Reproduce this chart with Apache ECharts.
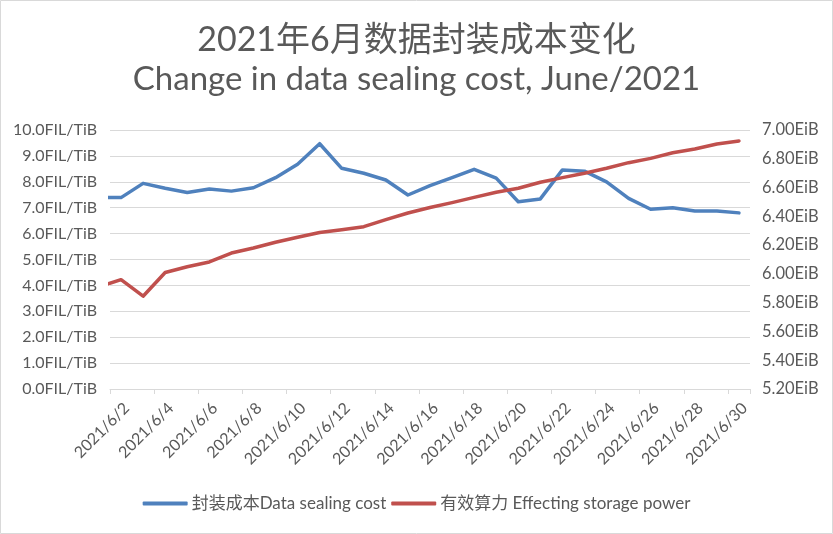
<!DOCTYPE html>
<html><head><meta charset="utf-8">
<script src="https://cdn.jsdelivr.net/npm/echarts@6/dist/echarts.min.js"></script>
<style>html,body{margin:0;padding:0;background:#fff}#c{width:833px;height:534px}</style>
</head><body><div id="c"></div>
<script>
const categories = ['2021/6/1','2021/6/2','2021/6/3','2021/6/4','2021/6/5','2021/6/6','2021/6/7','2021/6/8','2021/6/9','2021/6/10',
  '2021/6/11','2021/6/12','2021/6/13','2021/6/14','2021/6/15','2021/6/16','2021/6/17','2021/6/18','2021/6/19','2021/6/20',
  '2021/6/21','2021/6/22','2021/6/23','2021/6/24','2021/6/25','2021/6/26','2021/6/27','2021/6/28','2021/6/29','2021/6/30'];
const sealingCost = [7.39,7.39,7.94,7.75,7.59,7.72,7.64,7.77,8.16,8.68,9.47,8.52,8.33,8.07,7.49,7.85,8.16,8.48,8.14,7.23,
  7.34,8.46,8.41,8.00,7.36,6.94,7.00,6.87,6.87,6.80];
const storagePower = [5.91,5.96,5.845,6.01,6.05,6.083,6.145,6.18,6.22,6.255,6.288,6.307,6.328,6.377,6.423,6.461,6.495,6.532,6.567,6.595,
  6.637,6.669,6.699,6.734,6.773,6.803,6.842,6.868,6.903,6.924];
const seriesNames = ['封装成本Data sealing cost','有效算力 Effecting storage power'];
const titleLines = ['2021年6月数据封装成本变化','Change in data sealing cost, June/2021'];

const FONT = "Lato, 'Noto Sans CJK SC', sans-serif";
const TXT = '#595959';
const chart = echarts.init(document.getElementById('c'), null, {renderer:'canvas'});
chart.setOption({
  animation:false,
  textStyle:{fontFamily:FONT, color:TXT},
  graphic:[{type:'rect', shape:{x:0.5,y:0.5,width:832,height:533}, style:{fill:'none', stroke:'#d9d9d9', lineWidth:1}, silent:true}],
  title:[
    {text:titleLines[0], left:'center', top:18, textStyle:{fontFamily:FONT, fontSize:34, fontWeight:'normal', color:TXT}},
    {text:titleLines[1], left:'center', top:58, textStyle:{fontFamily:FONT, fontSize:33, fontWeight:'normal', color:TXT}}
  ],
  legend:{
    bottom:17, left:'center', itemWidth:45, itemHeight:4, itemGap:5, icon:'roundRect',
    textStyle:{fontFamily:FONT, fontSize:17, color:TXT, padding:[0,0,0,-1]},
    data:seriesNames
  },
  grid:{left:110, right:83, top:130, bottom:145, containLabel:false},
  xAxis:{
    type:'category', data:categories, min:1, boundaryGap:true,
    axisLine:{lineStyle:{color:'#d9d9d9', width:1}},
    axisTick:{show:true, length:5, lineStyle:{color:'#d9d9d9'}, interval:(i)=>i%2===1},
    axisLabel:{rotate:45, fontSize:16, color:TXT, fontFamily:FONT, margin:11, verticalAlign:'top', interval:(i)=>i%2===1}
  },
  yAxis:[
    {type:'value', min:0, max:10, interval:1,
     axisLine:{show:false}, axisTick:{show:false},
     splitLine:{lineStyle:{color:'#d9d9d9', width:1}},
     axisLabel:{fontSize:16, color:TXT, fontFamily:FONT, margin:13, formatter:(v)=>v.toFixed(1)+'FIL/TiB'}},
    {type:'value', min:5.2, max:7.0, interval:0.2, position:'right',
     axisLine:{show:false}, axisTick:{show:false}, splitLine:{show:false},
     axisLabel:{fontSize:16.5, color:TXT, fontFamily:FONT, margin:12, formatter:(v)=>v.toFixed(2)+'EiB'}}
  ],
  series:[
    {name:seriesNames[0], type:'line', data:sealingCost, yAxisIndex:0, symbol:'none', clip:true,
     lineStyle:{color:'#4F81BD', width:3.5, cap:'round', join:'round'}, itemStyle:{color:'#4F81BD'}},
    {name:seriesNames[1], type:'line', data:storagePower, yAxisIndex:1, symbol:'none', clip:true,
     lineStyle:{color:'#C0504D', width:3.5, cap:'round', join:'round'}, itemStyle:{color:'#C0504D'}}
  ]
});
</script></body></html>
